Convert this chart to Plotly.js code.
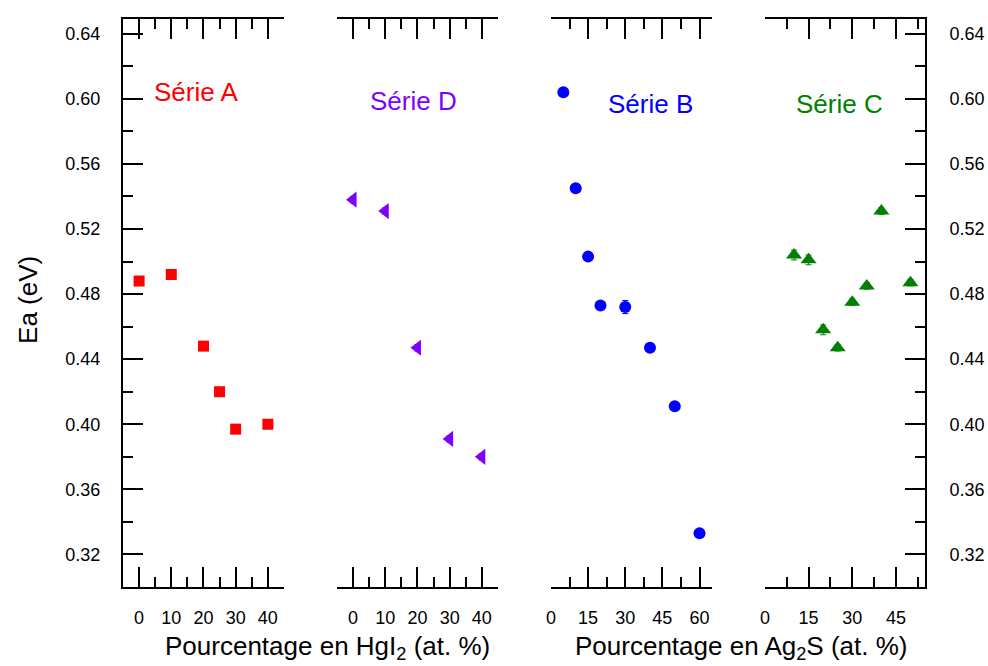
<!DOCTYPE html>
<html>
<head>
<meta charset="utf-8">
<script src="https://cdn.plot.ly/plotly-3.0.1.min.js"></script>
<style>html,body{margin:0;padding:0;background:#fff;}#chart{width:988px;height:666px;}</style>
</head>
<body>
<div id="chart"></div>
<script>
// Série A (HgI2)
const xA = [0, 10, 20, 25, 30, 40];
const yA = [0.488, 0.492, 0.448, 0.420, 0.397, 0.400];
const eA = [0.001, 0.001, 0.001, 0.001, 0.001, 0.001];
// Série D (HgI2)
const xD = [0, 10, 20, 30, 40];
const yD = [0.538, 0.531, 0.447, 0.391, 0.380];
const eD = [0.002, 0.002, 0.002, 0.002, 0.002];
// Série B (Ag2S)
const xB = [5, 10, 15, 20, 30, 40, 50, 60];
const yB = [0.604, 0.545, 0.503, 0.473, 0.472, 0.447, 0.411, 0.333];
const eB = [0.001, 0.001, 0.001, 0.001, 0.004, 0.001, 0.001, 0.002];
// Série C (Ag2S)
const xC = [10, 15, 20, 25, 30, 35, 40, 50];
const yC = [0.504, 0.501, 0.458, 0.447, 0.475, 0.485, 0.531, 0.487];
const eC = [0.003, 0.003, 0.003, 0.002, 0.002, 0.002, 0.002, 0.002];

const yTickVals = [0.32, 0.36, 0.40, 0.44, 0.48, 0.52, 0.56, 0.60, 0.64];

const FONT = 'Arial, "Liberation Sans", sans-serif';
const W = 0.2007, G = 0.0661;
const dom = i => [i * (W + G), i * (W + G) + W];

function err(arr, color) {
  return {type: 'data', array: arr, visible: true, color: color, thickness: 1, width: 3};
}

const traces = [
  {x: xA, y: yA, xaxis: 'x', yaxis: 'y', mode: 'markers', type: 'scatter',
   marker: {symbol: 'square', size: 11, color: '#ff0000'}, error_y: err(eA, '#ff0000')},
  {x: xD, y: yD, xaxis: 'x2', yaxis: 'y2', mode: 'markers', type: 'scatter',
   marker: {symbol: 'triangle-left', size: 14, color: '#8000ff'}, error_y: err(eD, '#8000ff')},
  {x: xB, y: yB, xaxis: 'x3', yaxis: 'y3', mode: 'markers', type: 'scatter',
   marker: {symbol: 'circle', size: 12, color: '#0000ff'}, error_y: err(eB, '#0000ff')},
  {x: xC, y: yC, xaxis: 'x4', yaxis: 'y4', mode: 'markers', type: 'scatter',
   marker: {symbol: 'triangle-up', size: 14, color: '#008000'}, error_y: err(eC, '#008000')}
];

function xax(i, range, dtick, minor) {
  return {
    domain: dom(i), anchor: i === 0 ? 'y' : 'y' + (i + 1), range: range,
    showline: true, linecolor: '#000', linewidth: 2, mirror: 'ticks',
    ticks: 'inside', ticklen: 20, tickwidth: 2, tickcolor: '#000',
    tick0: 0, dtick: dtick,
    minor: {dtick: minor, tick0: 0, ticks: 'inside', ticklen: 10, tickwidth: 2, tickcolor: '#000'},
    showgrid: false, zeroline: false,
    tickfont: {family: FONT, size: 18, color: '#000'}, ticklabelstandoff: 13
  };
}
function yax(i, opts) {
  const base = {
    anchor: i === 0 ? 'x' : 'x' + (i + 1), range: [0.30, 0.649],
    showgrid: false, zeroline: false
  };
  if (i > 0) base.matches = 'y';
  return Object.assign(base, opts);
}
function yStyled(standoff) {
  return {
    showline: true, linecolor: '#000', linewidth: 2,
    ticks: 'inside', ticklen: 20, tickwidth: 2, tickcolor: '#000',
    tickvals: yTickVals, tickformat: '.2f',
    minor: {dtick: 0.02, tick0: 0.30, ticks: 'inside', ticklen: 10, tickwidth: 2, tickcolor: '#000'},
    tickfont: {family: FONT, size: 18, color: '#000'}, ticklabelstandoff: standoff
  };
}

const layout = {
  width: 988, height: 666,
  margin: {l: 123, r: 63, t: 19, b: 79},
  paper_bgcolor: '#fff', plot_bgcolor: '#fff',
  showlegend: false,
  font: {family: FONT, color: '#000'},
  xaxis: xax(0, [-5, 45], 10, 5),
  xaxis2: xax(1, [-5, 45], 10, 5),
  xaxis3: xax(2, [0, 65], 15, 7.5),
  xaxis4: xax(3, [0, 55], 15, 7.5),
  yaxis: yax(0, Object.assign({side: 'left'}, yStyled(17))),
  yaxis2: yax(1, {showline: false, ticks: '', showticklabels: false}),
  yaxis3: yax(2, {showline: false, ticks: '', showticklabels: false}),
  yaxis4: yax(3, Object.assign({side: 'right'}, yStyled(19))),
  annotations: [
    {xref: 'paper', yref: 'paper', x: 0.2556, y: -0.107, text: 'Pourcentage en HgI<sub>2</sub> (at. %)',
     showarrow: false, xanchor: 'center', yanchor: 'middle', font: {family: FONT, size: 26, color: '#000'}},
    {xref: 'paper', yref: 'paper', x: 0.7706, y: -0.107, text: 'Pourcentage en Ag<sub>2</sub>S (at. %)',
     showarrow: false, xanchor: 'center', yanchor: 'middle', font: {family: FONT, size: 26, color: '#000'}},
    {xref: 'paper', yref: 'paper', x: -0.1185, y: 0.5053, text: 'Ea (eV)', textangle: -90,
     showarrow: false, xanchor: 'center', yanchor: 'middle', font: {family: FONT, size: 26, color: '#000'}},
    {xref: 'paper', yref: 'paper', x: 0.0904, y: 0.8715, text: 'Série A', showarrow: false,
     xanchor: 'center', yanchor: 'middle', font: {family: FONT, size: 26, color: '#ff0000'}},
    {xref: 'paper', yref: 'paper', x: 0.3628, y: 0.8556, text: 'Série D', showarrow: false,
     xanchor: 'center', yanchor: 'middle', font: {family: FONT, size: 26, color: '#8000ff'}},
    {xref: 'paper', yref: 'paper', x: 0.6577, y: 0.8504, text: 'Série B', showarrow: false,
     xanchor: 'center', yanchor: 'middle', font: {family: FONT, size: 26, color: '#0000ff'}},
    {xref: 'paper', yref: 'paper', x: 0.8934, y: 0.8504, text: 'Série C', showarrow: false,
     xanchor: 'center', yanchor: 'middle', font: {family: FONT, size: 26, color: '#008000'}}
  ]
};

Plotly.newPlot('chart', traces, layout, {displayModeBar: false, staticPlot: true});
</script>
</body>
</html>
